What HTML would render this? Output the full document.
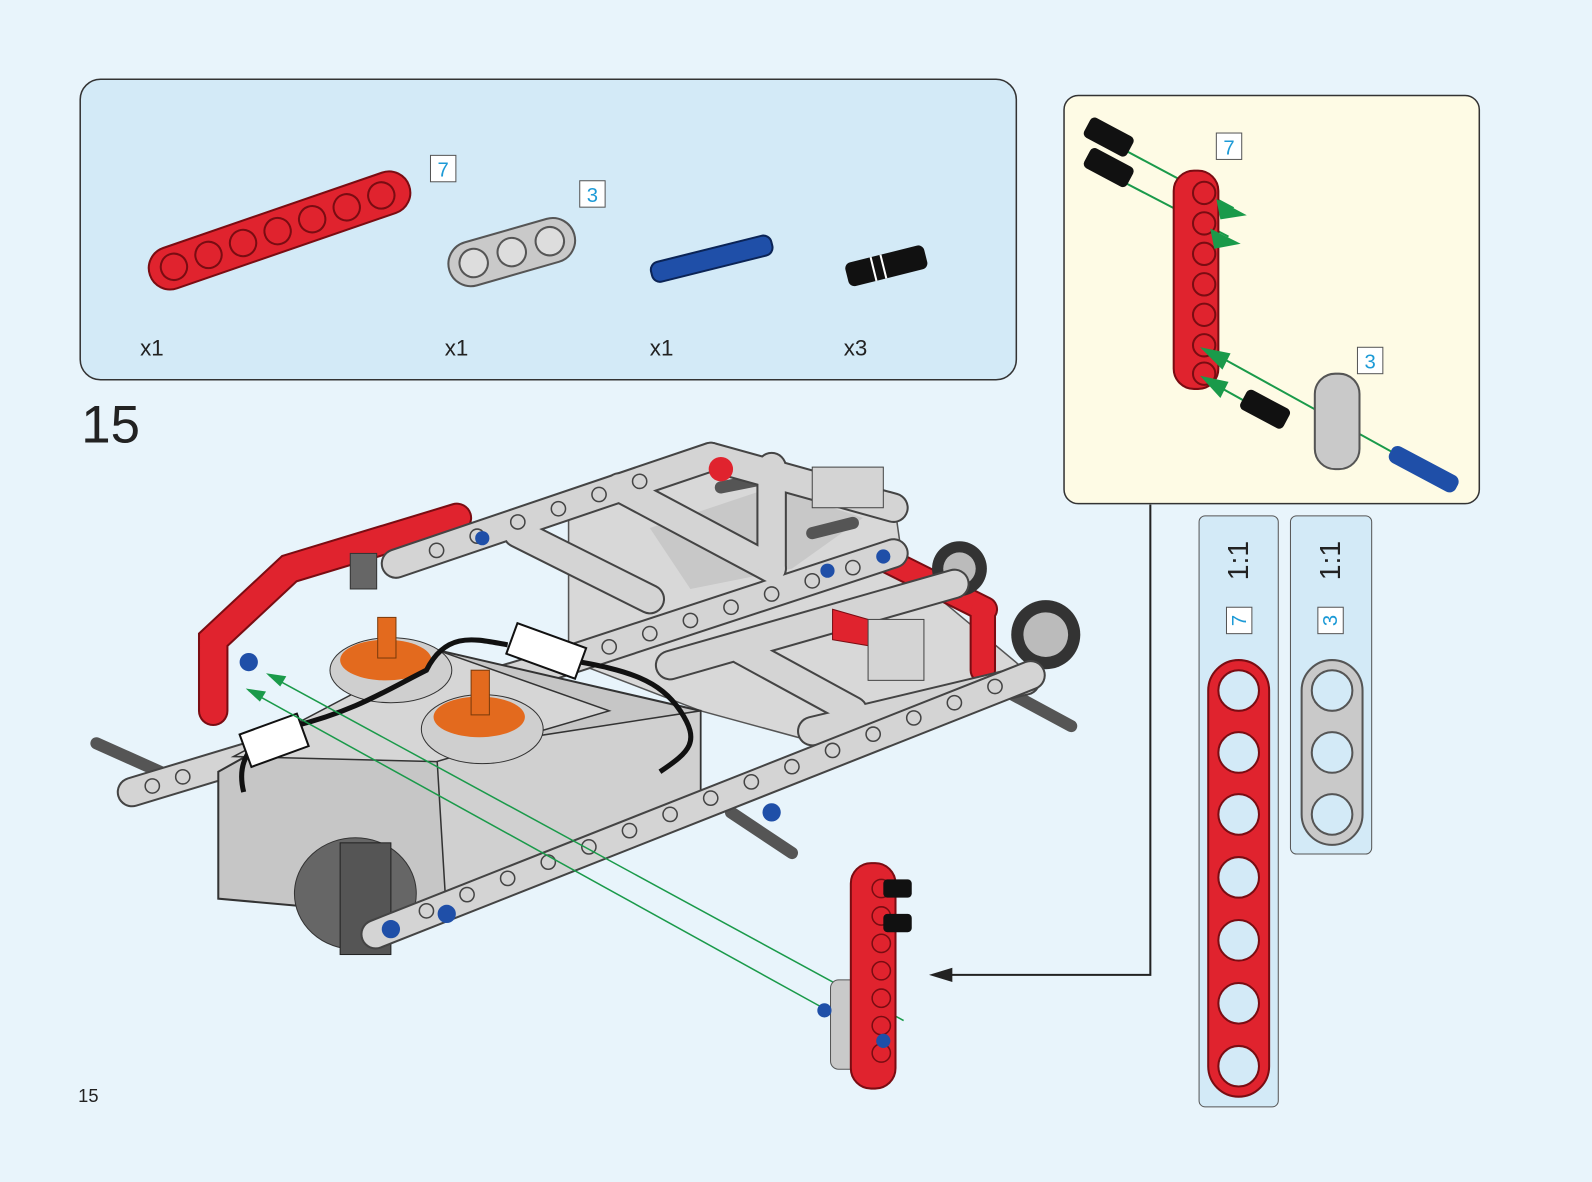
<!DOCTYPE html>
<html><head><meta charset="utf-8"><style>
html,body{margin:0;padding:0;background:#e8f4fb;}
svg{display:block}
text{font-family:"Liberation Sans",sans-serif}
</style></head><body>
<svg width="1592" height="1182" viewBox="0 0 1568 1164" preserveAspectRatio="none" xmlns="http://www.w3.org/2000/svg">
<rect width="1568" height="1164" fill="#e8f4fb"/>
<rect x="79" y="78" width="922" height="296" rx="20" fill="#d3eaf7" stroke="#333" stroke-width="1.5"/>
<g transform="rotate(-19 275 226)">
<rect x="140" y="206" width="270" height="42" rx="21" fill="#e0232e" stroke="#7a0c12" stroke-width="2"/>
<g fill="none" stroke="#7a0c12" stroke-width="2">
<circle cx="165" cy="227" r="13"/><circle cx="201" cy="227" r="13"/><circle cx="237" cy="227" r="13"/><circle cx="273" cy="227" r="13"/><circle cx="309" cy="227" r="13"/><circle cx="345" cy="227" r="13"/><circle cx="381" cy="227" r="13"/></g></g>
<rect x="424" y="153" width="25" height="26" fill="#fff" stroke="#555"/><text x="436.5" y="174" font-size="20" fill="#1d9ad6" text-anchor="middle">7</text>
<g transform="rotate(-16 505 248)">
<rect x="440" y="226" width="128" height="44" rx="22" fill="#c9c9c9" stroke="#555" stroke-width="2"/>
<g fill="#ddd" stroke="#555" stroke-width="2"><circle cx="465" cy="248" r="14"/><circle cx="504" cy="248" r="14"/><circle cx="543" cy="248" r="14"/></g></g>
<rect x="571" y="178" width="25" height="26" fill="#fff" stroke="#555"/><text x="583.5" y="199" font-size="20" fill="#1d9ad6" text-anchor="middle">3</text>
<g transform="rotate(-14 700 255)"><rect x="640" y="245" width="122" height="20" rx="8" fill="#1f4fa8" stroke="#0b2456" stroke-width="2"/></g>
<g transform="rotate(-14 872 262)"><rect x="833" y="250" width="80" height="24" rx="6" fill="#111"/><line x1="860" y1="250" x2="860" y2="274" stroke="#fff" stroke-width="2"/><line x1="870" y1="250" x2="870" y2="274" stroke="#fff" stroke-width="2"/></g>
<g font-size="22" fill="#222"><text x="138" y="350">x1</text><text x="438" y="350">x1</text><text x="640" y="350">x1</text><text x="831" y="350">x3</text></g>
<text x="80" y="436" font-size="52" fill="#222">15</text>
<text x="77" y="1085" font-size="18" fill="#222">15</text>

<rect x="1048" y="94" width="409" height="402" rx="14" fill="#fefbe5" stroke="#333" stroke-width="1.5"/>
<polyline points="1133,497 1133,960 920,960" fill="none" stroke="#222" stroke-width="2"/>
<polygon points="915,960 938,953 938,967" fill="#222"/>
<g stroke="#1a9a4a" stroke-width="2">
<line x1="1108" y1="148" x2="1215" y2="205"/><line x1="1108" y1="180" x2="1210" y2="233"/>
<line x1="1190" y1="345" x2="1380" y2="450"/><line x1="1190" y1="375" x2="1235" y2="400"/></g>
<rect x="1156" y="168" width="44" height="215" rx="20" fill="#e0232e" stroke="#7a0c12" stroke-width="2"/>
<g fill="none" stroke="#7a0c12" stroke-width="2"><circle cx="1186" cy="190" r="11"/><circle cx="1186" cy="220" r="11"/><circle cx="1186" cy="250" r="11"/><circle cx="1186" cy="280" r="11"/><circle cx="1186" cy="310" r="11"/><circle cx="1186" cy="340" r="11"/><circle cx="1186" cy="368" r="11"/></g>
<g fill="#1a9a4a"><polygon points="1228,212 1198,196 1202,216"/><polygon points="1222,240 1192,225 1196,245"/><polygon points="1182,342 1212,348 1204,364"/><polygon points="1182,370 1210,376 1202,392"/></g>
<g fill="#111"><g transform="rotate(28 1092 135)"><rect x="1068" y="124" width="48" height="22" rx="5"/></g><g transform="rotate(28 1092 165)"><rect x="1068" y="154" width="48" height="22" rx="5"/></g><g transform="rotate(28 1246 403)"><rect x="1222" y="392" width="48" height="22" rx="5"/></g></g>
<rect x="1295" y="368" width="44" height="94" rx="20" fill="#c9c9c9" stroke="#555" stroke-width="2"/>
<g transform="rotate(28 1400 462)"><rect x="1365" y="452" width="74" height="18" rx="7" fill="#1f4fa8"/></g>
<rect x="1198" y="131" width="25" height="26" fill="#fff" stroke="#555"/><text x="1210.5" y="152" font-size="20" fill="#1d9ad6" text-anchor="middle">7</text>
<rect x="1337" y="342" width="25" height="26" fill="#fff" stroke="#555"/><text x="1349.5" y="363" font-size="20" fill="#1d9ad6" text-anchor="middle">3</text>

<rect x="1181" y="508" width="78" height="582" rx="6" fill="#d3eaf7" stroke="#555" stroke-width="1"/>
<rect x="1271" y="508" width="80" height="333" rx="6" fill="#d3eaf7" stroke="#555" stroke-width="1"/>
<text transform="translate(1229 552) rotate(-90)" font-size="28" fill="#222" text-anchor="middle">1:1</text>
<text transform="translate(1320 552) rotate(-90)" font-size="28" fill="#222" text-anchor="middle">1:1</text>
<rect x="1208" y="598" width="25" height="26" fill="#fff" stroke="#555"/><text transform="translate(1227 611) rotate(-90)" font-size="20" fill="#1d9ad6" text-anchor="middle">7</text>
<rect x="1298" y="598" width="25" height="26" fill="#fff" stroke="#555"/><text transform="translate(1317 611) rotate(-90)" font-size="20" fill="#1d9ad6" text-anchor="middle">3</text>
<rect x="1190" y="650" width="60" height="430" rx="30" fill="#e0232e" stroke="#7a0c12" stroke-width="2"/>
<g fill="#d3eaf7" stroke="#7a0c12" stroke-width="2"><circle cx="1220" cy="680" r="20"/><circle cx="1220" cy="741" r="20"/><circle cx="1220" cy="802" r="20"/><circle cx="1220" cy="864" r="20"/><circle cx="1220" cy="926" r="20"/><circle cx="1220" cy="988" r="20"/><circle cx="1220" cy="1050" r="20"/></g>
<rect x="1282" y="650" width="60" height="182" rx="30" fill="#c9c9c9" stroke="#555" stroke-width="2"/>
<g fill="#d3eaf7" stroke="#555" stroke-width="2"><circle cx="1312" cy="680" r="20"/><circle cx="1312" cy="741" r="20"/><circle cx="1312" cy="802" r="20"/></g>

<!-- model -->
<polygon points="560,500 700,445 880,490 890,560 1010,660 800,730 690,700 560,650" fill="#d8d8d8" stroke="#555" stroke-width="1.5"/>
<polygon points="640,520 760,480 850,510 780,560 680,580" fill="#c8c8c8"/>
<g stroke-linecap="round">
<g stroke="#555" stroke-width="12"><line x1="95" y1="732" x2="180" y2="770"/><line x1="990" y1="680" x2="1055" y2="715"/><line x1="720" y1="800" x2="780" y2="840"/><line x1="710" y1="480" x2="760" y2="470"/><line x1="800" y1="525" x2="840" y2="515"/></g>
<g stroke="#7a0c12" stroke-width="30" fill="none"><polyline points="210,700 210,630 285,560 450,510"/></g>
<g stroke="#e0232e" stroke-width="26" fill="none"><polyline points="210,700 210,630 285,560 450,510"/></g>
<g stroke="#7a0c12" stroke-width="26"><line x1="870" y1="550" x2="970" y2="600"/><line x1="968" y1="600" x2="968" y2="660"/></g>
<g stroke="#e0232e" stroke-width="22"><line x1="870" y1="550" x2="970" y2="600"/><line x1="968" y1="600" x2="968" y2="660"/></g>
<circle cx="1030" cy="625" r="34" fill="#333"/><circle cx="1030" cy="625" r="22" fill="#bbb"/>
<circle cx="945" cy="560" r="27" fill="#333"/><circle cx="945" cy="560" r="16" fill="#bbb"/>
<g stroke="#444" stroke-width="30">
<line x1="390" y1="555" x2="700" y2="450"/><line x1="700" y1="450" x2="880" y2="500"/>
<line x1="510" y1="525" x2="640" y2="590"/><line x1="610" y1="480" x2="760" y2="560"/>
<line x1="760" y1="460" x2="760" y2="560"/><line x1="560" y1="650" x2="880" y2="545"/>
<line x1="660" y1="655" x2="940" y2="575"/><line x1="730" y1="640" x2="840" y2="700"/>
<line x1="800" y1="720" x2="1010" y2="670"/><line x1="130" y1="780" x2="560" y2="650"/>
</g>
<g stroke="#d4d4d4" stroke-width="26">
<line x1="390" y1="555" x2="700" y2="450"/><line x1="700" y1="450" x2="880" y2="500"/>
<line x1="510" y1="525" x2="640" y2="590"/><line x1="610" y1="480" x2="760" y2="560"/>
<line x1="760" y1="460" x2="760" y2="560"/><line x1="560" y1="650" x2="880" y2="545"/>
<line x1="660" y1="655" x2="940" y2="575"/><line x1="730" y1="640" x2="840" y2="700"/>
<line x1="800" y1="720" x2="1010" y2="670"/><line x1="130" y1="780" x2="560" y2="650"/>
</g>
<polygon points="820,600 890,620 880,640 820,630" fill="#e0232e" stroke="#7a0c12"/>
<rect x="855" y="610" width="55" height="60" fill="#d4d4d4" stroke="#444"/>
<rect x="800" y="460" width="70" height="40" fill="#d4d4d4" stroke="#444"/>
<circle cx="710" cy="462" r="12" fill="#e0232e"/>
</g>
<polygon points="215,760 430,640 690,700 690,780 440,905 215,885" fill="#c6c6c6" stroke="#333" stroke-width="2"/>
<polygon points="430,740 690,700 690,780 440,905" fill="#d0d0d0" stroke="#333" stroke-width="1.5"/>
<polygon points="230,745 430,640 600,700 430,750" fill="#d6d6d6" stroke="#333" stroke-width="1.5"/>
<ellipse cx="385" cy="660" rx="60" ry="32" fill="#cfcfcf" stroke="#333"/><ellipse cx="380" cy="650" rx="45" ry="20" fill="#e36a1e"/>
<rect x="372" y="608" width="18" height="40" fill="#e36a1e" stroke="#7a3a0a"/>
<ellipse cx="475" cy="718" rx="60" ry="34" fill="#cfcfcf" stroke="#333"/><ellipse cx="472" cy="706" rx="45" ry="20" fill="#e36a1e"/>
<rect x="464" y="660" width="18" height="44" fill="#e36a1e" stroke="#7a3a0a"/>
<ellipse cx="350" cy="880" rx="60" ry="55" fill="#666" stroke="#333"/><rect x="335" y="830" width="50" height="110" fill="#555" stroke="#222"/>
<line x1="370" y1="920" x2="1015" y2="665" stroke="#444" stroke-width="30" stroke-linecap="round"/>
<line x1="370" y1="920" x2="1015" y2="665" stroke="#d4d4d4" stroke-width="26" stroke-linecap="round"/>
<g fill="none" stroke="#444" stroke-width="1.5">
<circle cx="420" cy="897" r="7"/><circle cx="460" cy="881" r="7"/><circle cx="500" cy="865" r="7"/><circle cx="540" cy="849" r="7"/><circle cx="580" cy="834" r="7"/><circle cx="620" cy="818" r="7"/><circle cx="660" cy="802" r="7"/><circle cx="700" cy="786" r="7"/><circle cx="740" cy="770" r="7"/><circle cx="780" cy="755" r="7"/><circle cx="820" cy="739" r="7"/><circle cx="860" cy="723" r="7"/><circle cx="900" cy="707" r="7"/><circle cx="940" cy="692" r="7"/><circle cx="980" cy="676" r="7"/>
<circle cx="600" cy="637" r="7"/><circle cx="640" cy="624" r="7"/><circle cx="680" cy="611" r="7"/><circle cx="720" cy="598" r="7"/><circle cx="760" cy="585" r="7"/><circle cx="800" cy="572" r="7"/><circle cx="840" cy="559" r="7"/>
<circle cx="430" cy="542" r="7"/><circle cx="470" cy="528" r="7"/><circle cx="510" cy="514" r="7"/><circle cx="550" cy="501" r="7"/><circle cx="590" cy="487" r="7"/><circle cx="630" cy="474" r="7"/>
<circle cx="150" cy="774" r="7"/><circle cx="180" cy="765" r="7"/></g>
<path d="M240,780 C230,740 260,720 290,715 C350,700 380,680 420,660 C440,620 470,630 500,635 M560,650 C620,660 650,670 670,700 C690,730 680,740 650,760" fill="none" stroke="#111" stroke-width="5"/>
<rect x="240" y="712" width="60" height="34" fill="#fff" stroke="#111" stroke-width="2" transform="rotate(-20 270 729)"/>
<rect x="502" y="625" width="72" height="32" fill="#fff" stroke="#111" stroke-width="2" transform="rotate(20 538 641)"/>
<g fill="#1f4fa8"><circle cx="245" cy="652" r="9"/><circle cx="385" cy="915" r="9"/><circle cx="440" cy="900" r="9"/><circle cx="760" cy="800" r="9"/><circle cx="475" cy="530" r="7"/><circle cx="815" cy="562" r="7"/><circle cx="870" cy="548" r="7"/></g>
<rect x="345" y="545" width="26" height="35" fill="#666" stroke="#333"/>
<g stroke="#1a9a4a" stroke-width="1.5"><line x1="265" y1="665" x2="890" y2="1005"/><line x1="245" y1="680" x2="815" y2="995"/></g>
<polygon points="262,663 282,666 276,676" fill="#1a9a4a"/><polygon points="242,678 262,681 256,691" fill="#1a9a4a"/>
<rect x="818" y="965" width="40" height="88" rx="8" fill="#c9c9c9" stroke="#555"/>
<rect x="838" y="850" width="44" height="222" rx="20" fill="#e0232e" stroke="#7a0c12" stroke-width="2"/>
<g fill="none" stroke="#7a0c12" stroke-width="1.5"><circle cx="868" cy="875" r="9"/><circle cx="868" cy="902" r="9"/><circle cx="868" cy="929" r="9"/><circle cx="868" cy="956" r="9"/><circle cx="868" cy="983" r="9"/><circle cx="868" cy="1010" r="9"/><circle cx="868" cy="1037" r="9"/></g>
<g fill="#111"><rect x="870" y="866" width="28" height="18" rx="4"/><rect x="870" y="900" width="28" height="18" rx="4"/></g>
<circle cx="870" cy="1025" r="7" fill="#1f4fa8"/><circle cx="812" cy="995" r="7" fill="#1f4fa8"/>
</svg>
</body></html>
